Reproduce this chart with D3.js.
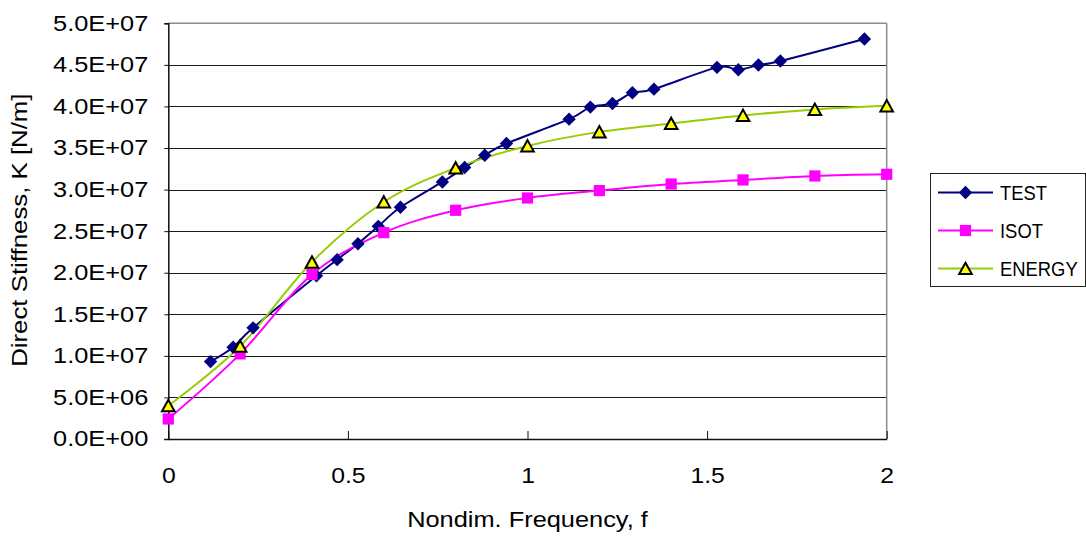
<!DOCTYPE html>
<html>
<head>
<meta charset="utf-8">
<script src="https://cdn.jsdelivr.net/npm/d3@7"></script>
<style>
  html, body { margin: 0; padding: 0; background: #fff; }
  svg { display: block; font-family: "Liberation Sans", Arial, sans-serif; }
</style>
</head>
<body>
<svg id="chart" width="1086" height="537"></svg>
<script>
// Nondimensional frequency vs. direct stiffness K [N/m]
const testFreq = [0.1175, 0.1804, 0.236, 0.4125, 0.470, 0.528, 0.5846, 0.6463, 0.763, 0.825,
                  0.881, 0.9414, 1.1157, 1.175, 1.2365, 1.292, 1.352, 1.5276, 1.587, 1.643, 1.704, 1.938];
const testK = [9.31e6, 11.04e6, 13.37e6, 19.64e6, 21.57e6, 23.49e6, 25.58e6, 27.87e6, 30.92e6, 32.65e6,
               34.13e6, 35.54e6, 38.47e6, 39.92e6, 40.36e6, 41.64e6, 42.08e6, 44.70e6, 44.41e6, 44.98e6, 45.46e6, 48.11e6];

const modelFreq = [0, 0.2, 0.4, 0.6, 0.8, 1.0, 1.2, 1.4, 1.6, 1.8, 2.0];
const isotK = [2.41e6, 10.24e6, 19.80e6, 24.82e6, 27.51e6, 28.99e6, 29.88e6, 30.67e6, 31.16e6, 31.64e6, 31.84e6];
const energyK = [4.01e6, 11.16e6, 21.28e6, 28.51e6, 32.60e6, 35.25e6, 36.94e6, 37.95e6, 38.92e6, 39.64e6, 40.07e6];

const xTicks = [0, 0.5, 1, 1.5, 2];
const yTicks = [0, 5e6, 1e7, 1.5e7, 2e7, 2.5e7, 3e7, 3.5e7, 4e7, 4.5e7, 5e7];
const seriesNames = ["TEST", "ISOT", "ENERGY"];
const xTitle = "Nondim. Frequency, f";
const yTitle = "Direct Stiffness, K [N/m]";

const svg = d3.select("#chart");
const plot = { left: 168.3, right: 886.7, top: 23.3, bottom: 439 };

const x = d3.scaleLinear().domain([0, 2]).range([plot.left, plot.right]);
const y = d3.scaleLinear().domain([0, 5e7]).range([plot.bottom, plot.top]);

// widen (or narrow) a text element along its baseline
function stretch(sel, k) {
  sel.each(function () {
    const len = this.getComputedTextLength();
    d3.select(this).attr("textLength", len * k).attr("lengthAdjust", "spacingAndGlyphs");
  });
}

const sci = d => {
  if (d === 0) return "0.0E+00";
  const e = Math.floor(Math.log10(d));
  const m = d / Math.pow(10, e);
  return m.toFixed(1) + "E+" + String(e).padStart(2, "0");
};

// horizontal gridlines
svg.append("g").selectAll("line")
  .data(yTicks.filter(t => t > 0 && t < 5e7))
  .join("line")
  .attr("x1", plot.left).attr("x2", plot.right)
  .attr("y1", d => Math.round(y(d)) + 0.5).attr("y2", d => Math.round(y(d)) + 0.5)
  .attr("stroke", "#1a1a1a").attr("stroke-width", 1);

// plot frame: top and right in grey
svg.append("line")
  .attr("x1", plot.left).attr("x2", plot.right)
  .attr("y1", plot.top).attr("y2", plot.top)
  .attr("stroke", "#8c8c8c").attr("stroke-width", 1.5);
svg.append("line")
  .attr("x1", plot.right).attr("x2", plot.right)
  .attr("y1", plot.top).attr("y2", plot.bottom)
  .attr("stroke", "#8c8c8c").attr("stroke-width", 1.5);

// y axis
const yAxis = svg.append("g")
  .attr("transform", `translate(${plot.left},0)`)
  .call(d3.axisLeft(y).tickValues(yTicks).tickFormat(sci).tickSize(4).tickPadding(16));
yAxis.select(".domain").attr("stroke", "#111").attr("stroke-width", 1.5);
yAxis.selectAll(".tick line").attr("stroke", "#111");
yAxis.selectAll(".tick text")
  .attr("font-size", 21.5).attr("fill", "#000")
  .attr("font-family", "'Liberation Sans', Arial, sans-serif")
  .call(stretch, 1.18);

// x axis with inward ticks
const xAxis = svg.append("g")
  .attr("transform", `translate(0,${plot.bottom})`)
  .call(d3.axisBottom(x).tickValues(xTicks).tickFormat(d3.format("")).tickSizeInner(-8).tickSizeOuter(0).tickPadding(36));
xAxis.select(".domain").attr("stroke", "#111").attr("stroke-width", 1.5);
xAxis.selectAll(".tick line").attr("stroke", "#111");
xAxis.selectAll(".tick text")
  .attr("font-size", 21.5).attr("fill", "#000")
  .attr("font-family", "'Liberation Sans', Arial, sans-serif")
  .attr("dy", 0).attr("y", 44.3)
  .call(stretch, 1.15);

// axis titles
svg.append("text")
  .attr("x", (plot.left + plot.right) / 2).attr("y", 526.7)
  .attr("text-anchor", "middle").attr("font-size", 21.5)
  .text(xTitle).call(stretch, 1.18);
svg.append("text")
  .attr("transform", `translate(27,${(plot.top + plot.bottom) / 2 - 1}) rotate(-90)`)
  .attr("text-anchor", "middle").attr("font-size", 21.5)
  .text(yTitle).call(stretch, 1.2);

// series
const smooth = d3.line().x(d => x(d[0])).y(d => y(d[1])).curve(d3.curveCatmullRom.alpha(0));
const testPts = testFreq.map((f, i) => [f, testK[i]]);
const isotPts = modelFreq.map((f, i) => [f, isotK[i]]);
const energyPts = modelFreq.map((f, i) => [f, energyK[i]]);

const colors = { TEST: "#000080", ISOT: "#ff00ff", ENERGY: "#99cc00" };

const diamond = "M0,-6.7L6.7,0L0,6.7L-6.7,0Z";
const square = "M-5.6,-5.6H5.6V5.6H-5.6Z";
const triangle = "M0,-5.8L6.3,5.6L-6.3,5.6Z";

function drawMarker(g, name, px, py) {
  if (name === "TEST") {
    g.append("path").attr("d", diamond).attr("transform", `translate(${px},${py})`).attr("fill", colors.TEST);
  } else if (name === "ISOT") {
    g.append("path").attr("d", square).attr("transform", `translate(${px},${py})`).attr("fill", colors.ISOT);
  } else {
    g.append("path").attr("d", triangle).attr("transform", `translate(${px},${py})`)
      .attr("fill", "#ffff00").attr("stroke", "#000").attr("stroke-width", 2).attr("stroke-linejoin", "miter");
  }
}

const series = [["TEST", testPts], ["ISOT", isotPts], ["ENERGY", energyPts]];
series.forEach(([name, pts]) => {
  svg.append("path").datum(pts).attr("d", smooth)
    .attr("fill", "none").attr("stroke", colors[name]).attr("stroke-width", 2);
});
series.forEach(([name, pts]) => {
  const g = svg.append("g");
  pts.forEach(p => drawMarker(g, name, x(p[0]), y(p[1])));
});

// legend
const legend = svg.append("g");
legend.append("rect")
  .attr("x", 930.5).attr("y", 173.5).attr("width", 155).attr("height", 113)
  .attr("fill", "#fff").attr("stroke", "#222").attr("stroke-width", 1);
const rowY = [192.5, 230.5, 268.5];
seriesNames.forEach((name, i) => {
  const ry = rowY[i];
  legend.append("line").attr("x1", 938).attr("x2", 993).attr("y1", ry).attr("y2", ry)
    .attr("stroke", colors[name]).attr("stroke-width", 2);
  drawMarker(legend, name, 965.5, ry);
  legend.append("text").attr("x", 1000).attr("y", ry + 7)
    .attr("font-size", 20).text(name).call(stretch, 0.92);
});
</script>
</body>
</html>
